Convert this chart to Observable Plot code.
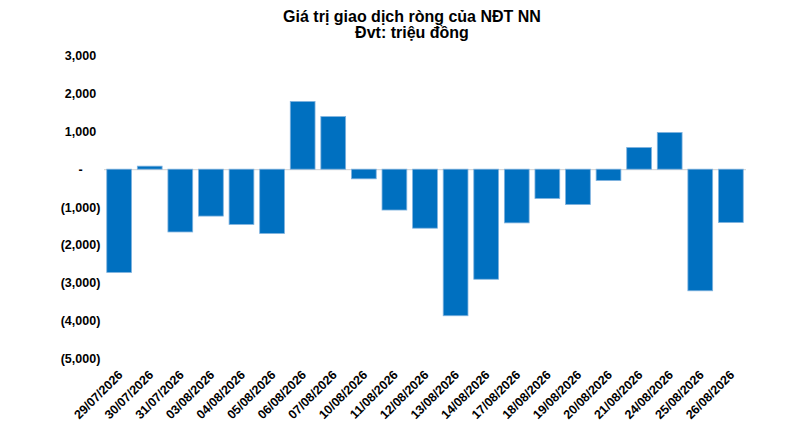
<!DOCTYPE html>
<html>
<head>
<meta charset="utf-8">
<script src="https://cdn.jsdelivr.net/npm/d3@7"></script>
<script src="https://cdn.jsdelivr.net/npm/@observablehq/plot@0.6"></script>
<style>
  html, body { margin: 0; padding: 0; background: #fff; }
  #wrap { width: 802px; height: 431px; overflow: hidden; font-family: "Liberation Sans", Arial, sans-serif; }
  #title { box-sizing: border-box; width: 802px; height: 40px; padding: 9px 0 0 22px; text-align: center;
           font-weight: bold; font-size: 16px; line-height: 16px; color: #000; }
  svg { display: block; }
</style>
</head>
<body>
<div id="wrap">
  <div id="title">Giá trị giao dịch ròng của NĐT NN<br>Đvt: triệu đồng</div>
  <div id="chart"></div>
</div>
<script>
const dates = ["29/07/2026","30/07/2026","31/07/2026","03/08/2026","04/08/2026","05/08/2026","06/08/2026",
  "07/08/2026","10/08/2026","11/08/2026","12/08/2026","13/08/2026","14/08/2026","17/08/2026",
  "18/08/2026","19/08/2026","20/08/2026","21/08/2026","24/08/2026","25/08/2026","26/08/2026"];
const values = [-2730, 80, -1660, -1240, -1460, -1700, 1790,
  1390, -255, -1080, -1560, -3875, -2910, -1420,
  -775, -935, -300, 573, 970, -3215, -1410];
const yTicks = [-5000, -4000, -3000, -2000, -1000, 0, 1000, 2000, 3000];

const data = dates.map((d, i) => ({date: d, value: values[i]}));
const fmt = d3.format(",");
const yFormat = v => v === 0 ? "-" : v < 0 ? "(" + fmt(-v) + ")" : fmt(v);

const chart = Plot.plot({
  width: 802,
  height: 391,
  marginLeft: 104,
  marginRight: 56,
  marginTop: 15.7,
  marginBottom: 72.7,
  style: {fontFamily: "'Liberation Sans', Arial, sans-serif", fontWeight: "bold", fontSize: "12.5px", color: "#000", background: "#fff"},
  x: {domain: dates, paddingInner: 0.19, paddingOuter: 0.09, round: false, label: null},
  y: {domain: [-5000, 3000], label: null},
  marks: [
    Plot.ruleY([0], {stroke: "#d9d9d9", strokeWidth: 1.3}),
    Plot.barY(data, {x: "date", y: "value", fill: "#0070C0", stroke: "#7fb2de", strokeWidth: 0.8}),
    Plot.axisY({ticks: yTicks, tickFormat: yFormat, tickSize: 0, tickPadding: 24, textAnchor: "middle", label: null, fontSize: 12.5}),
    Plot.axisX({tickSize: 0, tickRotate: -45, tickPadding: 14, dx: 1, label: null, fontSize: 12.5})
  ]
});
document.getElementById("chart").appendChild(chart);
</script>
</body>
</html>
